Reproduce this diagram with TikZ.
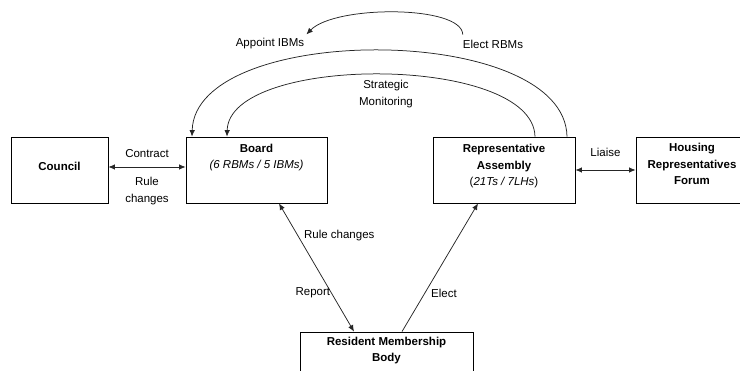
\documentclass[tikz,border=0pt]{standalone}
\usepackage{fontspec}
\setmainfont{Liberation Sans}
\usetikzlibrary{arrows.meta,positioning}

\begin{document}
\begin{tikzpicture}[x=1pt,y=-1pt,
		box/.style={draw=black,line width=0.8pt,minimum height=66pt,inner sep=0pt},
		boxtxt/.style={font=\fontsize{11.5}{16.5}\selectfont\bfseries,align=center,inner sep=0pt},
		lbl/.style={font=\fontsize{11.5}{16.5}\selectfont,align=center,inner sep=0pt},
		arr/.style={draw=black!85,line width=0.75pt,-{Latex[length=6.5pt,width=5.5pt]}},
		biarr/.style={draw=black!85,line width=0.75pt,{Latex[length=6.5pt,width=5.5pt]}-{Latex[length=6.5pt,width=5.5pt]}}]
		\useasboundingbox (0,0) rectangle (740,371);
		\clip (0,0) rectangle (740,371);

		% Boxes
		\node[box,minimum width=97pt] (council) at (59.5,170) {};
		\node[box,minimum width=141pt] (board) at (256.5,170) {};
		\node[box,minimum width=142pt] (ra) at (504,170) {};
		\node[box,minimum width=112pt] (hrf) at (692,170) {};
		\node[box,minimum width=173pt] (rmb) at (386.5,365) {};

		\node[boxtxt] (counciltxt) at ([yshift=4pt]council.center) {Council};
		\node[boxtxt,below=7pt of board.north] (boardtxt) {Board\\{\mdseries\itshape (6 RBMs / 5 IBMs)}};
		\node[boxtxt,below=7.5pt of ra.north] (ratxt) {Representative\\Assembly\\{\mdseries(\textit{21Ts / 7LHs})}};
		\node[boxtxt,below=6.5pt of hrf.north] (hrftxt) {Housing\\Representatives\\Forum};
		\node[boxtxt,below=5pt of rmb.north] (rmbtxt) {Resident Membership\\Body};

		% Side links
		\draw[biarr] ([yshift=3pt]council.east) -- ([yshift=3pt]board.west)
			node[lbl,midway,above=9pt] (contract) {Contract}
			node[lbl,midway,below=10pt] (rulech) {Rule\\changes};
		\draw[biarr] (ra.east) -- (hrf.west)
			node[lbl,midway,above=13pt] (liaise) {Liaise};

		% Links to the members
		\draw[biarr] ([xshift=22.5pt]board.south) -- ([xshift=-32.5pt]rmb.north)
			node[lbl,pos=0.25,anchor=west,xshift=6pt] (rulech2) {Rule changes}
			node[lbl,pos=0.7,anchor=east,xshift=-1pt] (report) {Report};
		\draw[arr] ([xshift=15.5pt]rmb.north) -- ([xshift=-26pt]ra.south)
			node[lbl,pos=0.3,anchor=west,xshift=6pt] (elect) {Elect};

		% Arcs over the top
		\draw[arr] ([xshift=63pt]ra.north) .. controls (565,22) and (195,22) .. ([xshift=-64.5pt]board.north);
		\draw[arr] ([xshift=31pt]ra.north) .. controls (533,54) and (229,54) .. ([xshift=-29.5pt]board.north);
		\node[lbl] (strat) at (386,94) {Strategic\\Monitoring};

		\node[lbl] (appoint) at (270,44) {Appoint IBMs};
		\node[lbl] (electrbm) at (493,44) {Elect RBMs};
		\draw[arr] ([yshift=5pt]electrbm.north west) .. controls (462,5) and (335,5) .. ([xshift=2pt,yshift=4pt]appoint.north east);
	\end{tikzpicture}
\end{document}
